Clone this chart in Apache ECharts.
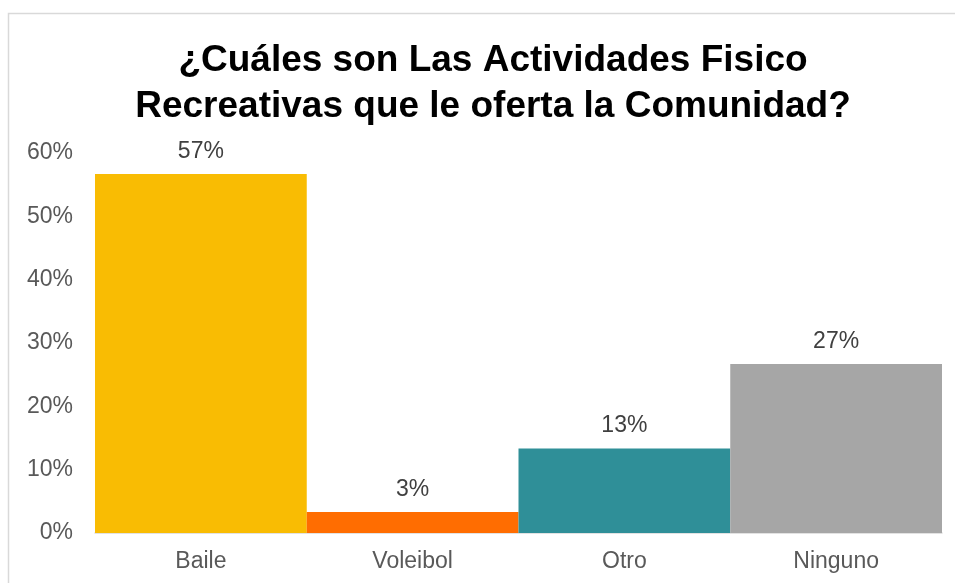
<!DOCTYPE html>
<html>
<head>
<meta charset="utf-8">
<style>
  html, body { margin: 0; padding: 0; background: #ffffff; }
  #chart { width: 955px; height: 583px; }
</style>
<script src="https://cdn.jsdelivr.net/npm/echarts@6/dist/echarts.min.js"></script>
</head>
<body>
<div id="chart"></div>
<script>
// Activity categories and their share of responses (percent)
var categories = ['Baile', 'Voleibol', 'Otro', 'Ninguno'];
var shares = [56.67, 3.33, 13.33, 26.67];
var barColors = ['#F9BC03', '#FF6D01', '#2F8F98', '#A6A6A6'];
var yTicks = { min: 0, max: 60, step: 10 };
var chartTitle = '¿Cuáles son Las Actividades Fisico\nRecreativas que le oferta la Comunidad?';

var chart = echarts.init(document.getElementById('chart'));
var baseFont = 'Liberation Sans, Arial, sans-serif';

chart.setOption({
  backgroundColor: '#ffffff',
  animation: false,
  title: {
    text: chartTitle,
    left: 488,
    top: 33,
    textAlign: 'center',
    textStyle: {
      fontFamily: baseFont,
      fontWeight: 'bold',
      fontSize: 37,
      lineHeight: 46,
      color: '#000000'
    }
  },
  graphic: [{
    type: 'rect',
    shape: { x: 8.5, y: 13.5, width: 960, height: 600 },
    style: { fill: null, stroke: '#d9d9d9', lineWidth: 1.5 },
    silent: true,
    z: -1
  }],
  grid: { left: 95, right: 13, top: 153, bottom: 50, containLabel: false },
  xAxis: {
    type: 'category',
    data: categories,
    axisLine: { show: true, lineStyle: { color: '#d9d9d9', width: 1.5 } },
    axisTick: { show: false },
    axisLabel: {
      color: '#595959',
      fontFamily: baseFont,
      fontSize: 23,
      margin: 17
    }
  },
  yAxis: {
    type: 'value',
    min: yTicks.min,
    max: yTicks.max,
    interval: yTicks.step,
    axisLine: { show: false },
    axisTick: { show: false },
    splitLine: { show: false },
    axisLabel: {
      color: '#595959',
      fontFamily: baseFont,
      fontSize: 23,
      margin: 22,
      formatter: function (v) { return v + '%'; }
    }
  },
  series: [{
    type: 'bar',
    data: shares.map(function (v, i) {
      return { value: v, itemStyle: { color: barColors[i] } };
    }),
    barWidth: '100%',
    barCategoryGap: 0,
    label: {
      show: true,
      position: 'top',
      distance: 11,
      color: '#404040',
      fontFamily: baseFont,
      fontSize: 23,
      formatter: function (p) { return Math.round(p.value) + '%'; }
    }
  }]
});
</script>
</body>
</html>
